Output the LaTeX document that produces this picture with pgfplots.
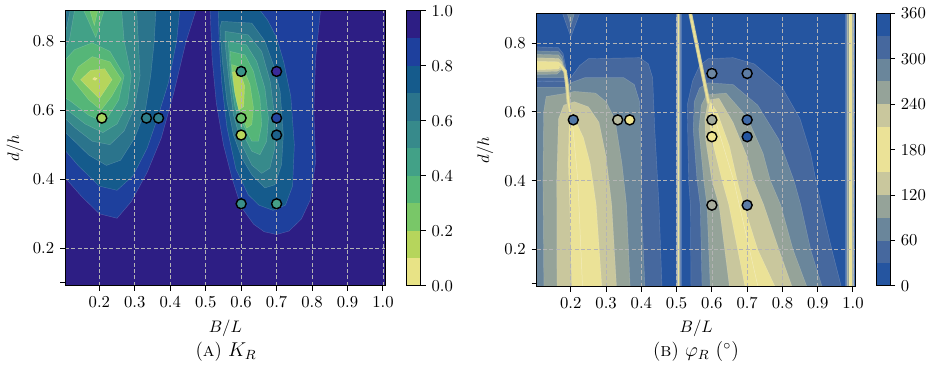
\documentclass[border=0pt]{standalone}
\usepackage{pgfplots}
\pgfplotsset{compat=1.18}
% panel A colours (0.0 ... 1.0 in steps of 0.1)
\definecolor{a0}{HTML}{E8E386}
\definecolor{a1}{HTML}{B6D55C}
\definecolor{a2}{HTML}{79C768}
\definecolor{a3}{HTML}{55B678}
\definecolor{a4}{HTML}{42A187}
\definecolor{a5}{HTML}{378A8B}
\definecolor{a6}{HTML}{2B748C}
\definecolor{a7}{HTML}{155B8C}
\definecolor{a8}{HTML}{1E409D}
\definecolor{a9}{HTML}{2D1E84}
% panel B colours (cyclic, 30 degree bands)
\definecolor{b0}{HTML}{2555A0}
\definecolor{b1}{HTML}{46689E}
\definecolor{b2}{HTML}{6A869B}
\definecolor{b3}{HTML}{95A399}
\definecolor{b4}{HTML}{C9C79D}
\definecolor{b5}{HTML}{EBE297}
\definecolor{gridc}{HTML}{B4B4B4}
% marker fills
\definecolor{pa1}{HTML}{A6D25F}\definecolor{pa2}{HTML}{2F7F8B}\definecolor{pa3}{HTML}{2F7F8B}
\definecolor{pa4}{HTML}{3A938A}\definecolor{pa5}{HTML}{3A2A9A}\definecolor{pa6}{HTML}{6CC36C}
\definecolor{pa7}{HTML}{2446A0}\definecolor{pa8}{HTML}{B8D65C}\definecolor{pa9}{HTML}{1D628C}
\definecolor{pa10}{HTML}{3A8F8A}\definecolor{pa11}{HTML}{45A088}
\definecolor{pb1}{HTML}{5077A6}\definecolor{pb2}{HTML}{B9BCA0}\definecolor{pb3}{HTML}{F2E690}
\definecolor{pb4}{HTML}{6C87A2}\definecolor{pb5}{HTML}{5D7DA5}\definecolor{pb6}{HTML}{A2AA9C}
\definecolor{pb7}{HTML}{3F6AA8}\definecolor{pb8}{HTML}{F0E592}\definecolor{pb9}{HTML}{2455A0}
\definecolor{pb10}{HTML}{A8AD9C}\definecolor{pb11}{HTML}{5C7CA6}

\newcommand{\reg}[2]{\addplot[fill=#1, draw=white, draw opacity=0.2, line width=0.25pt] coordinates {#2} -- cycle;}
\newcommand{\mk}[3]{\addplot[only marks, mark=*, mark size=3pt, mark options={fill=#3, draw=black, line width=0.85pt}] coordinates {(#1,#2)};}
\newcommand{\cb}[3]{\addplot[fill=#1, draw=none] coordinates {(0,#2) (1,#2) (1,#3) (0,#3)} -- cycle;}

\pgfplotsset{
  panel/.style={
    scale only axis, anchor=south west,
    xmin=0.1032, xmax=1.0076, ymin=0.092, ymax=0.887,
    xtick={0.2,0.3,0.4,0.5,0.6,0.7,0.8,0.9,1.0},
    xticklabels={0.2,0.3,0.4,0.5,0.6,0.7,0.8,0.9,1.0},
    ytick={0.2,0.4,0.6,0.8}, yticklabels={0.2,0.4,0.6,0.8},
    extra y ticks={0.1}, extra y tick labels={},
    extra y tick style={grid=none},
    tick pos=left, tick align=outside,
    major tick length=3pt,
    tick style={black, line width=0.6pt},
    grid=major,
    grid style={dash pattern=on 2.4pt off 1.4pt, color=gridc, line width=0.45pt},
    axis on top,
    axis line style={line width=0.6pt},
    xlabel={$B/L$}, ylabel={$d/h$},
  },
  cbar/.style={
    scale only axis, anchor=south west,
    xmin=0, xmax=1, xtick=\empty,
    ytick pos=right, yticklabel pos=right,
    tick align=outside, major tick length=3pt,
    tick style={black, line width=0.6pt},
    axis on top, axis line style={line width=0.6pt},
  },
}

\begin{document}
\begin{tikzpicture}
\useasboundingbox (0,0) rectangle (558pt,231.6pt);

% ---------------- panel A ----------------
\begin{axis}[panel, at={(39pt,60.2pt)}, width=192.4pt, height=164.8pt,
  axis background/.style={fill=a9},
  x label style={at={(axis description cs:0.5,-0.154)}, anchor=center},
  y label style={at={(axis description cs:-0.156,0.5)}, anchor=center}]
% left blob
\reg{a8}{(0.09,0.90)(0.476,0.90)(0.445,0.80)(0.41,0.65)(0.375,0.52)(0.335,0.42)(0.29,0.335)(0.25,0.287)(0.20,0.30)(0.15,0.35)(0.09,0.42)}
\reg{a7}{(0.09,0.90)(0.428,0.90)(0.418,0.80)(0.395,0.68)(0.365,0.58)(0.335,0.49)(0.295,0.41)(0.25,0.368)(0.20,0.38)(0.14,0.44)(0.09,0.50)}
\reg{a8}{(0.09,0.90)(0.112,0.90)(0.09,0.865)}
\reg{a6}{(0.112,0.90)(0.36,0.90)(0.355,0.80)(0.345,0.70)(0.33,0.60)(0.30,0.52)(0.26,0.455)(0.22,0.44)(0.17,0.47)(0.12,0.52)(0.09,0.55)(0.09,0.80)(0.10,0.86)}
\reg{a5}{(0.12,0.90)(0.305,0.90)(0.31,0.80)(0.315,0.70)(0.30,0.61)(0.27,0.54)(0.23,0.50)(0.18,0.51)(0.13,0.55)(0.09,0.59)(0.09,0.78)(0.108,0.84)}
\reg{a4}{(0.132,0.90)(0.262,0.90)(0.27,0.80)(0.29,0.70)(0.28,0.62)(0.25,0.56)(0.21,0.535)(0.16,0.56)(0.11,0.60)(0.09,0.62)(0.09,0.75)(0.115,0.80)}
\reg{a3}{(0.09,0.73)(0.13,0.775)(0.18,0.795)(0.23,0.77)(0.27,0.70)(0.255,0.63)(0.215,0.565)(0.17,0.585)(0.12,0.625)(0.09,0.645)}
\reg{a3}{(0.151,0.90)(0.217,0.90)(0.19,0.81)}
\reg{a2}{(0.123,0.69)(0.14,0.725)(0.18,0.755)(0.23,0.74)(0.262,0.69)(0.235,0.64)(0.205,0.60)(0.17,0.63)}
\reg{a2}{(0.17,0.90)(0.198,0.90)(0.186,0.845)}
\reg{a1}{(0.147,0.688)(0.175,0.715)(0.215,0.72)(0.236,0.688)(0.20,0.633)}
\reg{a0}{(0.181,0.69)(0.186,0.695)(0.194,0.692)(0.188,0.686)}
% right blob
\reg{a8}{(0.512,0.90)(0.825,0.90)(0.81,0.75)(0.805,0.60)(0.81,0.45)(0.795,0.34)(0.77,0.285)(0.735,0.25)(0.70,0.24)(0.665,0.248)(0.635,0.27)(0.60,0.32)(0.575,0.40)(0.55,0.50)(0.53,0.62)(0.518,0.75)}
\reg{a7}{(0.535,0.90)(0.645,0.90)(0.675,0.86)(0.70,0.81)(0.72,0.74)(0.74,0.64)(0.75,0.50)(0.745,0.38)(0.725,0.325)(0.69,0.31)(0.65,0.325)(0.62,0.355)(0.585,0.43)(0.56,0.55)(0.545,0.68)(0.538,0.80)}
\reg{a6}{(0.54,0.838)(0.545,0.857)(0.63,0.852)(0.667,0.80)(0.691,0.731)(0.71,0.654)(0.719,0.529)(0.714,0.442)(0.695,0.384)(0.667,0.375)(0.63,0.413)(0.602,0.461)(0.578,0.529)(0.56,0.625)(0.547,0.741)}
\reg{a5}{(0.555,0.828)(0.62,0.818)(0.658,0.77)(0.682,0.683)(0.695,0.577)(0.695,0.49)(0.681,0.432)(0.658,0.417)(0.63,0.441)(0.602,0.50)(0.578,0.587)(0.564,0.703)(0.555,0.79)}
\reg{a4}{(0.564,0.799)(0.615,0.789)(0.644,0.741)(0.667,0.664)(0.677,0.577)(0.672,0.51)(0.653,0.471)(0.63,0.481)(0.606,0.529)(0.583,0.606)(0.569,0.703)}
\reg{a3}{(0.569,0.77)(0.611,0.76)(0.635,0.712)(0.653,0.635)(0.658,0.558)(0.649,0.51)(0.63,0.51)(0.606,0.558)(0.587,0.625)(0.573,0.703)}
\reg{a2}{(0.573,0.732)(0.606,0.722)(0.625,0.674)(0.635,0.606)(0.63,0.558)(0.616,0.548)(0.597,0.596)(0.583,0.654)}
\reg{a1}{(0.575,0.71)(0.595,0.715)(0.61,0.67)(0.607,0.61)(0.593,0.60)(0.582,0.65)}
% measured points
\mk{0.207}{0.577}{pa1}
\mk{0.333}{0.577}{pa2}
\mk{0.367}{0.577}{pa3}
\mk{0.6}{0.712}{pa4}
\mk{0.7}{0.712}{pa5}
\mk{0.6}{0.577}{pa6}
\mk{0.7}{0.577}{pa7}
\mk{0.6}{0.528}{pa8}
\mk{0.7}{0.528}{pa9}
\mk{0.6}{0.329}{pa10}
\mk{0.7}{0.329}{pa11}
\end{axis}

% colour bar A
\begin{axis}[cbar, at={(244pt,60pt)}, width=8.4pt, height=165pt,
  ymin=0, ymax=1, ytick={0,0.2,0.4,0.6,0.8,1},
  yticklabels={0.0,0.2,0.4,0.6,0.8,1.0}]
\cb{a0}{0}{0.1}\cb{a1}{0.1}{0.2}\cb{a2}{0.2}{0.3}\cb{a3}{0.3}{0.4}\cb{a4}{0.4}{0.5}
\cb{a5}{0.5}{0.6}\cb{a6}{0.6}{0.7}\cb{a7}{0.7}{0.8}\cb{a8}{0.8}{0.9}\cb{a9}{0.9}{1}
\end{axis}

% ---------------- panel B ----------------
\begin{axis}[panel, at={(322pt,59.6pt)}, width=191.4pt, height=164pt,
  axis background/.style={fill=b0},
  x label style={at={(axis description cs:0.5,-0.151)}, anchor=center},
  y label style={at={(axis description cs:-0.162,0.5)}, anchor=center}]
% left fan
\reg{b1}{(0.09,0.05)(0.09,0.688)(0.185,0.69)(0.20,0.70)(0.225,0.735)(0.25,0.755)(0.395,0.758)(0.42,0.74)(0.432,0.70)(0.438,0.55)(0.45,0.33)(0.46,0.05)}
\reg{b2}{(0.09,0.05)(0.09,0.672)(0.185,0.672)(0.20,0.685)(0.24,0.70)(0.35,0.70)(0.38,0.68)(0.395,0.63)(0.40,0.45)(0.40,0.33)(0.412,0.05)}
\reg{b3}{(0.124,0.05)(0.121,0.40)(0.123,0.60)(0.13,0.645)(0.19,0.655)(0.21,0.66)(0.27,0.655)(0.30,0.63)(0.325,0.58)(0.345,0.45)(0.358,0.33)(0.37,0.05)}
\reg{b4}{(0.161,0.05)(0.16,0.40)(0.165,0.58)(0.18,0.62)(0.21,0.63)(0.25,0.615)(0.28,0.57)(0.30,0.47)(0.316,0.33)(0.332,0.05)}
\reg{b5}{(0.204,0.05)(0.197,0.33)(0.193,0.45)(0.195,0.55)(0.198,0.60)(0.212,0.578)(0.236,0.525)(0.255,0.45)(0.272,0.33)(0.288,0.09)(0.29,0.05)}
\addplot[white, opacity=0.35, line width=0.3pt] coordinates {(0.203,0.585)(0.22,0.40)(0.235,0.05)};
% wedge at the upper left
\reg{b1}{(0.09,0.79)(0.165,0.787)(0.178,0.77)(0.186,0.73)(0.19,0.69)(0.09,0.69)}
\reg{b2}{(0.09,0.778)(0.165,0.776)(0.176,0.762)(0.183,0.73)(0.186,0.70)(0.09,0.70)}
\reg{b3}{(0.09,0.768)(0.165,0.766)(0.175,0.752)(0.181,0.728)(0.16,0.71)(0.09,0.709)}
\reg{b4}{(0.09,0.758)(0.165,0.756)(0.175,0.745)(0.179,0.727)(0.16,0.718)(0.09,0.717)}
\reg{b5}{(0.09,0.748)(0.165,0.746)(0.174,0.737)(0.165,0.725)(0.09,0.722)}
\addplot[b4, line width=2.2pt] coordinates {(0.172,0.735)(0.184,0.718)(0.189,0.68)(0.193,0.63)(0.199,0.595)};
\addplot[b5, line width=1.1pt] coordinates {(0.172,0.735)(0.184,0.718)(0.189,0.68)(0.193,0.63)(0.199,0.595)};
% small triangle at the top
\reg{b1}{(0.172,0.90)(0.23,0.90)(0.2,0.818)}
\reg{b2}{(0.186,0.90)(0.214,0.90)(0.2,0.852)}
% right fan
\reg{b1}{(0.541,0.05)(0.539,0.33)(0.534,0.40)(0.53,0.62)(0.545,0.69)(0.565,0.735)(0.59,0.755)(0.66,0.758)(0.72,0.74)(0.80,0.67)(0.85,0.58)(0.88,0.48)(0.895,0.40)(0.91,0.33)(0.94,0.20)(0.965,0.10)(0.975,0.05)}
\reg{b2}{(0.573,0.05)(0.567,0.33)(0.558,0.40)(0.547,0.55)(0.55,0.63)(0.565,0.67)(0.59,0.685)(0.66,0.68)(0.73,0.62)(0.79,0.52)(0.833,0.40)(0.852,0.33)(0.88,0.20)(0.913,0.09)(0.92,0.05)}
\reg{b3}{(0.597,0.05)(0.586,0.33)(0.577,0.40)(0.563,0.55)(0.57,0.62)(0.585,0.65)(0.64,0.655)(0.70,0.585)(0.745,0.48)(0.766,0.40)(0.795,0.33)(0.83,0.20)(0.87,0.09)(0.875,0.05)}
\reg{b4}{(0.655,0.05)(0.62,0.33)(0.60,0.40)(0.582,0.52)(0.58,0.58)(0.59,0.635)(0.62,0.64)(0.66,0.57)(0.70,0.47)(0.719,0.40)(0.747,0.33)(0.79,0.20)(0.828,0.09)(0.833,0.05)}
\reg{b5}{(0.702,0.05)(0.648,0.33)(0.629,0.40)(0.60,0.52)(0.59,0.60)(0.595,0.63)(0.615,0.60)(0.65,0.50)(0.672,0.40)(0.69,0.33)(0.73,0.20)(0.78,0.09)(0.785,0.05)}
\addplot[white, opacity=0.35, line width=0.3pt] coordinates {(0.597,0.62)(0.662,0.40)(0.74,0.05)};
\addplot[b4, line width=2.2pt] coordinates {(0.532,0.92)(0.591,0.625)};
\addplot[b5, line width=1.1pt] coordinates {(0.532,0.92)(0.591,0.625)};
% discontinuity lines
\reg{b1}{(0.499,0.05)(0.512,0.05)(0.512,0.95)(0.499,0.95)}
\reg{b3}{(0.5005,0.05)(0.5105,0.05)(0.5105,0.95)(0.5005,0.95)}
\reg{b5}{(0.503,0.05)(0.508,0.05)(0.508,0.95)(0.503,0.95)}
\reg{b1}{(0.979,0.05)(1.003,0.05)(1.003,0.95)(0.979,0.95)}
\reg{b2}{(0.982,0.05)(1.002,0.05)(1.002,0.95)(0.982,0.95)}
\reg{b3}{(0.984,0.05)(1.000,0.05)(1.000,0.95)(0.984,0.95)}
\reg{b5}{(0.988,0.05)(0.998,0.05)(0.998,0.95)(0.988,0.95)}
% measured points
\mk{0.207}{0.577}{pb1}
\mk{0.333}{0.577}{pb2}
\mk{0.367}{0.577}{pb3}
\mk{0.6}{0.712}{pb4}
\mk{0.7}{0.712}{pb5}
\mk{0.6}{0.577}{pb6}
\mk{0.7}{0.577}{pb7}
\mk{0.6}{0.528}{pb8}
\mk{0.7}{0.528}{pb9}
\mk{0.6}{0.329}{pb10}
\mk{0.7}{0.329}{pb11}
\end{axis}

% colour bar B
\begin{axis}[cbar, at={(525.6pt,60pt)}, width=8.4pt, height=163.6pt,
  ymin=0, ymax=360, ytick={0,60,120,180,240,300,360}]
\cb{b0}{0}{30}\cb{b1}{30}{60}\cb{b2}{60}{90}\cb{b3}{90}{120}\cb{b4}{120}{150}\cb{b5}{150}{180}
\cb{b5}{180}{210}\cb{b4}{210}{240}\cb{b3}{240}{270}\cb{b2}{270}{300}\cb{b1}{300}{330}\cb{b0}{330}{360}
\end{axis}

\node at (135.6pt,20.4pt) {\fontsize{11.5}{14}\selectfont(\textsc{a})~$K_R$};
\node at (417.6pt,20.4pt) {\fontsize{11.5}{14}\selectfont(\textsc{b})~$\varphi_R$~$(^\circ)$};
\end{tikzpicture}
\end{document}
